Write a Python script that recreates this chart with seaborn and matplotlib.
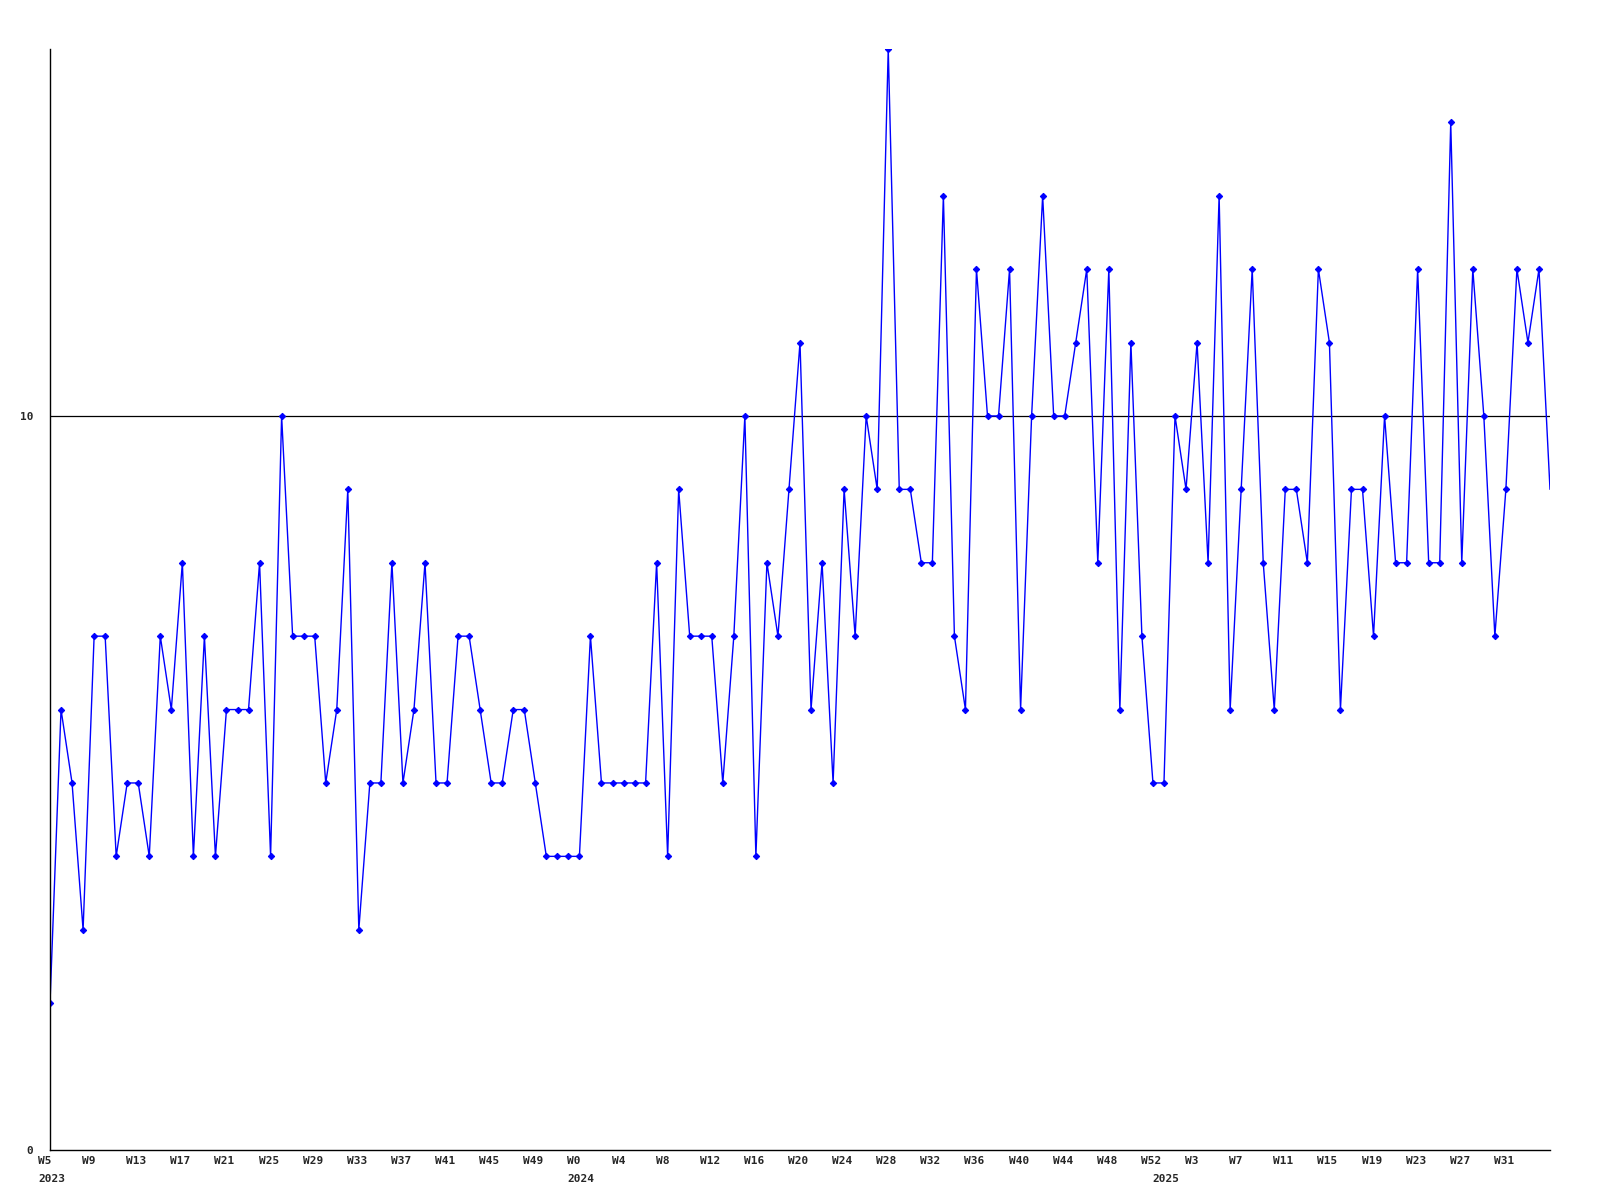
import matplotlib
matplotlib.use("Agg")
import matplotlib.pyplot as plt
import matplotlib.transforms as mtransforms
import seaborn as sns
import pandas as pd

# weekly counts, 2023 W5 .. 2025 W35
values = [
    2, 6, 5, 3, 7, 7, 4, 5, 5, 4, 7, 6, 8, 4, 7, 4, 6, 6, 6, 8, 4, 10, 7, 7, 7,
    5, 6, 9, 3, 5, 5, 8, 5, 6, 8, 5, 5, 7, 7, 6, 5, 5, 6, 6, 5, 4, 4, 4, 4,
    7, 5, 5, 5, 5, 5, 8, 4, 9, 7, 7, 7, 5, 7, 10, 4, 8, 7, 9, 11, 6, 8, 5,
    9, 7, 10, 9, 15, 9, 9, 8, 8, 13, 7, 6, 12, 10, 10, 12, 6,
    10, 13, 10, 10, 11, 12, 8, 12, 6, 11, 7, 5, 5, 10, 9, 11,
    8, 13, 6, 9, 12, 8, 6, 9, 9, 8, 12, 11, 6, 9, 9, 7,
    10, 8, 8, 12, 8, 8, 14, 8, 12, 10, 7, 9, 12, 11, 12, 9,
]

# weeks per year segment
years = [2023, 2024, 2025]
first_week = [5, 0, 0]
n_weeks = [48, 53, 36]

week_labels = []
year_pos = []
for yr, fw, n in zip(years, first_week, n_weeks):
    year_pos.append(len(week_labels))
    week_labels += [f"W{fw + k}" for k in range(n)]

df = pd.DataFrame({"idx": range(len(values)), "week": week_labels, "count": values})

tick_pos = list(range(0, 133, 4))
ref_value = 10

sns.set_style("white")
plt.rcParams["font.family"] = ["DejaVu Sans Mono", "DejaVu Sans"]
plt.rcParams["font.weight"] = "bold"

fig = plt.figure(figsize=(16, 12), dpi=100)
ax = fig.add_axes([0.03125, 0.0417, 0.9375, 0.9175])

sns.lineplot(data=df, x="idx", y="count", ax=ax, color="#0000ff", linewidth=1.0,
             marker="D", markersize=3.2, markeredgewidth=0.8,
             markeredgecolor="#0000ff", markerfacecolor="#0000ff",
             markevery=list(range(len(values) - 1)))
ax.axhline(ref_value, color="black", linewidth=0.9, zorder=1)

ax.set_xlim(0, len(values) - 1)
ax.set_ylim(0, 15)
ax.set_xlabel("")
ax.set_ylabel("")

ax.set_yticks([0, 10])
ax.set_yticklabels(["0", "10"], fontsize=8, fontweight="bold")
ax.xaxis.remove_overlapping_locs = False
ax.set_xticks(tick_pos)
ax.set_xticklabels([week_labels[i] for i in tick_pos], fontsize=8,
                   fontweight="bold", ha="left")
ax.set_xticks(year_pos, minor=True)
ax.set_xticklabels([str(y) for y in years], minor=True, fontsize=8,
                   fontweight="bold", ha="left")

ax.tick_params(axis="y", length=0, pad=12)
ax.tick_params(axis="x", which="major", length=0, pad=4)
ax.tick_params(axis="x", which="minor", length=0, pad=17)

offset = mtransforms.ScaledTranslation(-12 / 100, 0, fig.dpi_scale_trans)
for lab in ax.get_xticklabels(which="both"):
    lab.set_transform(lab.get_transform() + offset)

for side in ["top", "right"]:
    ax.spines[side].set_visible(False)
for side in ["left", "bottom"]:
    ax.spines[side].set_color("black")
    ax.spines[side].set_linewidth(1.0)

fig.savefig("out.png", dpi=100, facecolor="white")
